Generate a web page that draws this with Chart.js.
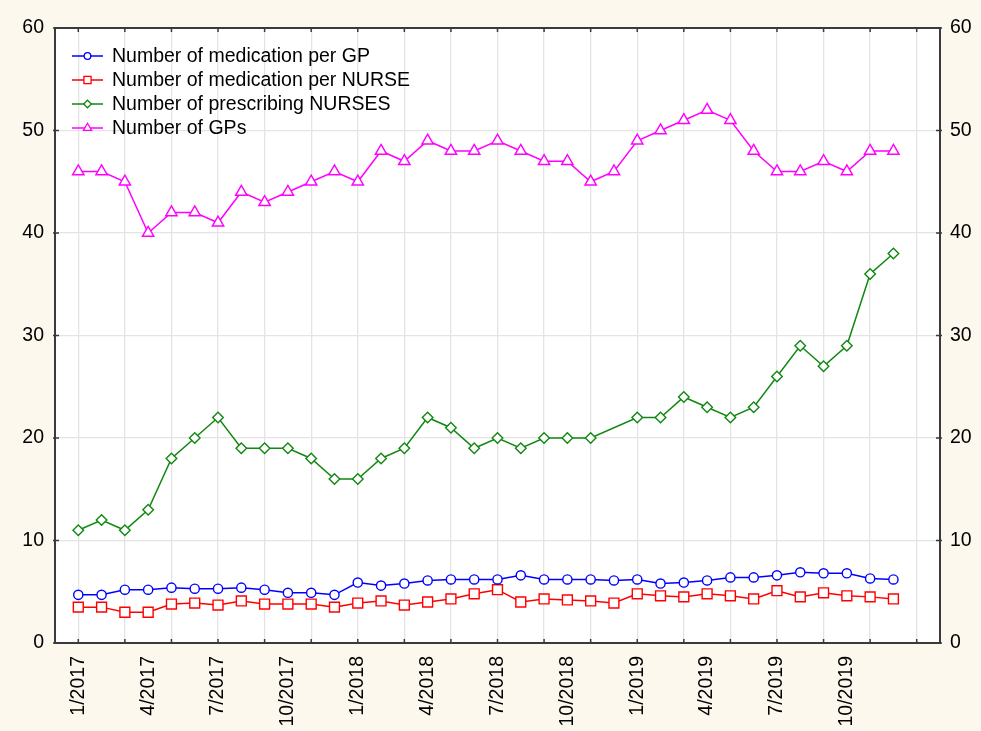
<!DOCTYPE html>
<html>
<head>
<meta charset="utf-8">
<script src="https://cdn.jsdelivr.net/npm/chart.js@4.4.0/dist/chart.umd.min.js"></script>
<style>
    html, body { margin: 0; padding: 0; background: #fcf8ed; }
    #wrap { width: 981px; height: 731px; }
</style>
</head>
<body>
<div id="wrap"><canvas id="chartCanvas" width="981" height="731"></canvas></div>
<script>
const months = [
    "1/2017", "2/2017", "3/2017", "4/2017", "5/2017", "6/2017", "7/2017", "8/2017", "9/2017", "10/2017", "11/2017", "12/2017",
    "1/2018", "2/2018", "3/2018", "4/2018", "5/2018", "6/2018", "7/2018", "8/2018", "9/2018", "10/2018", "11/2018", "12/2018",
    "1/2019", "2/2019", "3/2019", "4/2019", "5/2019", "6/2019", "7/2019", "8/2019", "9/2019", "10/2019", "11/2019", "12/2019"
];
const tickLabels = ["1/2017", "4/2017", "7/2017", "10/2017", "1/2018", "4/2018", "7/2018", "10/2018", "1/2019", "4/2019", "7/2019", "10/2019"];

const medPerGP = [4.7, 4.7, 5.2, 5.2, 5.4, 5.3, 5.3, 5.4, 5.2, 4.9, 4.9, 4.7, 5.9, 5.6, 5.8, 6.1, 6.2, 6.2,
                  6.2, 6.6, 6.2, 6.2, 6.2, 6.1, 6.2, 5.8, 5.9, 6.1, 6.4, 6.4, 6.6, 6.9, 6.8, 6.8, 6.3, 6.2];
const medPerNurse = [3.5, 3.5, 3.0, 3.0, 3.8, 3.9, 3.7, 4.1, 3.8, 3.8, 3.8, 3.5, 3.9, 4.1, 3.7, 4.0, 4.3, 4.8,
                     5.2, 4.0, 4.3, 4.2, 4.1, 3.9, 4.8, 4.6, 4.5, 4.8, 4.6, 4.3, 5.1, 4.5, 4.9, 4.6, 4.5, 4.3];
const prescribingNurses = [11, 12, 11, 13, 18, 20, 22, 19, 19, 19, 18, 16, 16, 18, 19, 22, 21, 19,
                           20, 19, 20, 20, 20, null, 22, 22, 24, 23, 22, 23, 26, 29, 27, 29, 36, 38];
const numberGPs = [46, 46, 45, 40, 42, 42, 41, 44, 43, 44, 45, 46, 45, 48, 47, 49, 48, 48,
                   49, 48, 47, 47, 45, 46, 49, 50, 51, 52, 51, 48, 46, 46, 47, 46, 48, 48];

const seriesNames = ["Number of medication per GP", "Number of medication per NURSE", "Number of prescribing NURSES", "Number of GPs"];
const yMin = 0, yMax = 60, yStep = 10;

const FONT = 'Arial, "Liberation Sans", sans-serif';
const FONT_SIZE = 19.5;
const BORDER = "#3a3a3a";
const GRID = "#e4e4e4";

Chart.defaults.font.family = FONT;
Chart.defaults.font.size = FONT_SIZE;
Chart.defaults.color = "#000";

function toPoints(arr) {
    return arr.map((v, i) => ({ x: i, y: v }));
}

function makeSet(label, values, color, style, radius) {
    return {
        label: label,
        data: toPoints(values),
        borderColor: color,
        backgroundColor: "#ffffff",
        borderWidth: 1.5,
        pointStyle: style,
        pointRadius: radius,
        pointBorderWidth: 1.4,
        pointBackgroundColor: "#ffffff",
        pointBorderColor: color,
        spanGaps: true,
        tension: 0
    };
}

const bgPlugin = {
    id: "bgPlugin",
    beforeDraw(chart) {
        const { ctx, chartArea } = chart;
        ctx.save();
        ctx.fillStyle = "#fcf8ed";
        ctx.fillRect(0, 0, chart.width, chart.height);
        ctx.fillStyle = "#ffffff";
        ctx.fillRect(chartArea.left, chartArea.top, chartArea.right - chartArea.left, chartArea.bottom - chartArea.top);
        ctx.restore();
    },
    beforeDatasetsDraw(chart) {
        const { ctx, chartArea, scales } = chart;
        ctx.save();
        ctx.strokeStyle = BORDER;
        ctx.lineWidth = 2;
        ctx.beginPath();
        ctx.moveTo(chartArea.left, chartArea.top);
        ctx.lineTo(chartArea.right, chartArea.top);
        ctx.stroke();
        // small inward ticks
        ctx.lineWidth = 1.5;
        ctx.beginPath();
        scales.x.ticks.forEach(t => {
            if (t.value % 2 !== 0) return;
            const px = scales.x.getPixelForValue(t.value);
            ctx.moveTo(px, chartArea.bottom + 1);
            ctx.lineTo(px, chartArea.bottom - 4);
            ctx.moveTo(px, chartArea.top - 1);
            ctx.lineTo(px, chartArea.top + 4);
        });
        scales.y.ticks.forEach(t => {
            const py = scales.y.getPixelForValue(t.value);
            ctx.moveTo(chartArea.left - 2, py);
            ctx.lineTo(chartArea.left + 4, py);
            ctx.moveTo(chartArea.right + 2, py);
            ctx.lineTo(chartArea.right - 4, py);
        });
        ctx.stroke();
        ctx.restore();
    }
};

const legendPlugin = {
    id: "legendPlugin",
    afterDatasetsDraw(chart) {
        const ctx = chart.ctx;
        ctx.save();
        chart.data.datasets.forEach((ds, i) => {
            const y = 56 + i * 24;
            ctx.strokeStyle = ds.borderColor;
            ctx.lineWidth = 1.5;
            ctx.beginPath();
            ctx.moveTo(72, y);
            ctx.lineTo(103, y);
            ctx.stroke();
            ctx.fillStyle = "#ffffff";
            ctx.lineWidth = 1.3;
            Chart.helpers.drawPoint(ctx, {
                pointStyle: ds.pointStyle,
                radius: ds.pointRadius * 0.72,
                borderWidth: 1.3,
                rotation: 0
            }, 87.5, y);
            ctx.fillStyle = "#000";
            ctx.font = FONT_SIZE + "px " + FONT;
            ctx.textAlign = "left";
            ctx.textBaseline = "middle";
            ctx.fillText(ds.label, 112, y + 1);
        });
        ctx.restore();
    }
};

const ctx = document.getElementById("chartCanvas").getContext("2d");

new Chart(ctx, {
    type: "line",
    data: {
        datasets: [
            makeSet(seriesNames[0], medPerGP, "#0000ff", "circle", 4.6),
            makeSet(seriesNames[1], medPerNurse, "#ff0000", "rect", 7),
            makeSet(seriesNames[2], prescribingNurses, "#118811", "rectRot", 5.3),
            makeSet(seriesNames[3], numberGPs, "#ff00ff", "triangle", 6.6)
        ]
    },
    options: {
        responsive: false,
        animation: false,
        devicePixelRatio: 1,
        layout: { padding: { top: 28, left: 0, right: 0, bottom: 0 } },
        plugins: {
            legend: { display: false },
            tooltip: { enabled: false }
        },
        scales: {
            x: {
                type: "linear",
                min: -1,
                max: 37,
                afterBuildTicks(scale) {
                    const t = [];
                    for (let v = -1; v <= 37; v++) t.push({ value: v });
                    scale.ticks = t;
                },
                afterFit(scale) { scale.height = 88; },
                ticks: {
                    autoSkip: false,
                    minRotation: 90,
                    maxRotation: 90,
                    padding: 13,
                    callback(v) {
                        const lab = months[v];
                        return tickLabels.includes(lab) ? lab : "";
                    }
                },
                grid: {
                    drawTicks: false,
                    color: c => (c.tick && c.tick.value >= 0 && c.tick.value % 2 === 0) ? GRID : "rgba(0,0,0,0)",
                    lineWidth: 1.3
                },
                border: { display: true, color: BORDER, width: 2 }
            },
            y: {
                position: "left",
                min: yMin,
                max: yMax,
                afterFit(scale) { scale.width = 55; },
                ticks: { stepSize: yStep, padding: 11 },
                grid: {
                    drawTicks: false,
                    color: c => (c.tick && c.tick.value > yMin && c.tick.value < yMax) ? GRID : "rgba(0,0,0,0)",
                    lineWidth: 1.3
                },
                border: { display: true, color: BORDER, width: 2 }
            },
            y2: {
                position: "right",
                min: yMin,
                max: yMax,
                afterFit(scale) { scale.width = 41; },
                ticks: { stepSize: yStep, padding: 10 },
                grid: { drawOnChartArea: false, drawTicks: false },
                border: { display: true, color: BORDER, width: 2 }
            }
        }
    },
    plugins: [bgPlugin, legendPlugin]
});
</script>
</body>
</html>
